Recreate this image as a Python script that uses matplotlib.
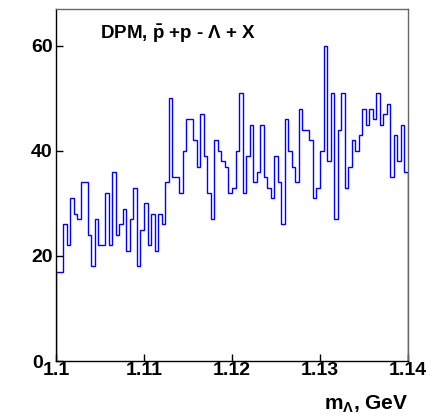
# -*- coding: utf-8 -*-
"""
    Spectre de masse invariante du Lambda (DPM)
"""

#========== IMPORT ==========#

import numpy as np
import matplotlib
matplotlib.use("Agg")
import matplotlib.pyplot as plt
from matplotlib.transforms import ScaledTranslation

#=========== DATA ===========#

m_min = 1.1
m_max = 1.14
n_bins = 100

# contenu des bins
counts = [17, 17, 26, 22, 31, 28, 27, 34, 34, 24,
          18, 27, 22, 22, 32, 22, 36, 24, 26, 29,
          21, 27, 33, 18, 25, 30, 22, 28, 21, 28,
          26, 34, 50, 35, 35, 32, 40, 46, 46, 42,
          37, 47, 39, 32, 27, 42, 40, 38, 37, 32,
          33, 40, 51, 32, 39, 45, 34, 36, 45, 35,
          33, 31, 39, 34, 26, 46, 40, 37, 34, 48,
          44, 44, 42, 31, 33, 40, 60, 38, 51, 27,
          44, 51, 33, 37, 42, 40, 43, 48, 45, 48,
          46, 51, 45, 47, 49, 35, 43, 38, 45, 36]

x_ticks = [1.1, 1.11, 1.12, 1.13, 1.14]
x_ticklabels = ["1.1", "1.11", "1.12", "1.13", "1.14"]
y_ticks = [0, 20, 40, 60]
y_max = 67

title = r"DPM, $\mathbf{\bar{p}}$ +p - $\Lambda$ + X"
x_title = r"m$_{\Lambda}$, GeV"

#======== FUNCTIONS =========#


def main():
    """
        Histogramme facon ROOT
    """
    plt.rcParams["font.family"] = ["Liberation Sans", "DejaVu Sans"]
    plt.rcParams["font.weight"] = "bold"
    plt.rcParams["mathtext.fontset"] = "custom"
    plt.rcParams["mathtext.rm"] = "Liberation Sans"
    plt.rcParams["mathtext.it"] = "Liberation Sans:italic"
    plt.rcParams["mathtext.bf"] = "Liberation Sans:bold"

    fig = plt.figure(figsize=(4.35, 4.18), dpi=100)
    ax = fig.add_axes([56 / 435, 57 / 418, 352 / 435, 352 / 418])

    edges = np.linspace(m_min, m_max, n_bins + 1)
    ax.stairs(counts, edges, baseline=0, fill=False, color="#0000ff", lw=1.0)

    ax.set_xlim(m_min, m_max)
    ax.set_ylim(0, y_max)
    ax.set_xticks(x_ticks)
    ax.set_xticklabels(x_ticklabels)
    ax.set_yticks(y_ticks)

    ax.tick_params(direction="in", length=5, width=1, labelsize=14)
    ax.tick_params(axis="x", pad=1.0)
    ax.tick_params(axis="y", pad=2.5)
    for lab in ax.get_xticklabels() + ax.get_yticklabels():
        lab.set_fontweight("bold")

    # ROOT decale le "0"
    zero = ax.get_yticklabels()[0]
    zero.set_transform(zero.get_transform()
                       + ScaledTranslation(-7 / 72, 0, fig.dpi_scale_trans))

    for side in ["left", "bottom"]:
        ax.spines[side].set_color("black")
        ax.spines[side].set_linewidth(1.0)
    for side in ["top", "right"]:
        ax.spines[side].set_color("#666666")
        ax.spines[side].set_linewidth(1.0)

    ax.text(0.125, 0.93, title, transform=ax.transAxes, fontsize=13.5,
            fontweight="bold", ha="left", va="center")

    ax.set_xlabel(x_title, loc="right", fontsize=15, fontweight="bold",
                  labelpad=10.5)

    fig.savefig("out.png", dpi=100)


#=========   EXEC   =========#
if __name__ == "__main__":
    main()
